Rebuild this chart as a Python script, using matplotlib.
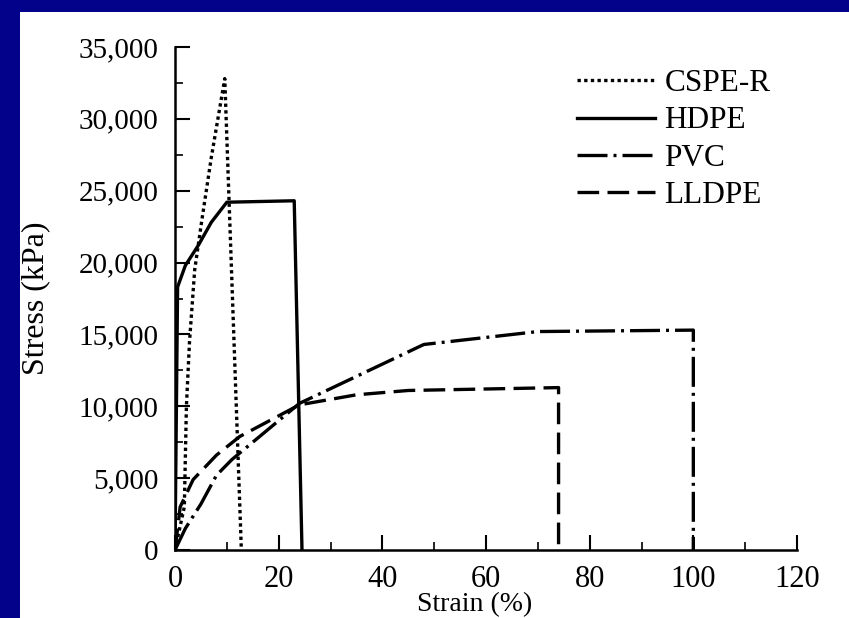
import matplotlib
matplotlib.use("Agg")
import matplotlib.pyplot as plt
from matplotlib.patches import Rectangle
from matplotlib.ticker import MultipleLocator, FuncFormatter

# ---- data ----
cspe_strain = [0, 1.8, 2.2, 2.8, 3.8, 5.2, 7.0, 9.6, 12.8]
cspe_stress = [0, 3000, 10000, 14500, 19500, 23000, 27300, 32800, 0]

hdpe_strain = [0, 0.5, 2.0, 4.5, 7.0, 10.0, 23.0, 24.5]
hdpe_stress = [0, 18300, 19800, 21200, 22800, 24200, 24300, 0]

pvc_strain = [0, 2, 5, 8, 11, 15, 24, 48, 70, 100, 100]
pvc_stress = [0, 1500, 3200, 5200, 6300, 7500, 10200, 14300, 15200, 15300, 0]

lldpe_strain = [0, 1, 3.5, 8, 12.5, 24, 35, 45, 74, 74]
lldpe_stress = [0, 3000, 4900, 6600, 7900, 10100, 10800, 11100, 11300, 0]

labels = ["CSPE-R", "HDPE", "PVC", "LLDPE"]
x_ticks = [0, 20, 40, 60, 80, 100, 120]
y_ticks = [0, 5000, 10000, 15000, 20000, 25000, 30000, 35000]

serif = ["Liberation Serif", "DejaVu Serif"]
plt.rcParams["font.family"] = serif

fig = plt.figure(figsize=(8.49, 6.18), dpi=100)
fig.patch.set_facecolor("#02028a")
fig.patches.append(Rectangle((20 / 849, 0), 1, 1 - 12 / 618, transform=fig.transFigure,
                             facecolor="white", edgecolor="none", zorder=-10))

ax = fig.add_axes([175 / 849, 1 - 550 / 618, (797 - 175) / 849, (550 - 47) / 618])
ax.set_zorder(5)
ax.set_facecolor("none")

lw = 2.4
ax.plot(cspe_strain, cspe_stress, color="black", lw=lw, linestyle=(0, (1.0, 1.0)), label=labels[0])
ax.plot(hdpe_strain, hdpe_stress, color="black", lw=lw, linestyle="-", label=labels[1])
ax.plot(pvc_strain, pvc_stress, color="black", lw=lw, linestyle=(0, (9, 1.8, 0.9, 1.8)), label=labels[2])
ax.plot(lldpe_strain, lldpe_stress, color="black", lw=lw, linestyle=(0, (6.5, 2.5)), label=labels[3])

ax.set_xlim(0, 120)
ax.set_ylim(0, 35000)
ax.set_xticks(x_ticks)
ax.set_yticks(y_ticks)
ax.xaxis.set_minor_locator(MultipleLocator(10))
ax.yaxis.set_minor_locator(MultipleLocator(2500))
ax.yaxis.set_major_formatter(FuncFormatter(lambda v, p: f"{int(v):,}"))

for s in ["top", "right"]:
    ax.spines[s].set_visible(False)
for s in ["left", "bottom"]:
    ax.spines[s].set_linewidth(1.8)

ax.tick_params(axis="both", which="major", direction="in", length=11, width=1.5)
ax.tick_params(axis="both", which="minor", direction="in", length=6, width=1.2)
ax.tick_params(axis="x", which="major", labelsize=22, pad=11)
ax.tick_params(axis="y", which="major", labelsize=21, pad=12)

ax.set_xlabel("Strain (%)", fontsize=20, va="center")
ax.xaxis.set_label_coords((475 - 175) / 622, -(605 - 550) / 503)
ax.set_ylabel("Stress (kPa)", fontsize=23, va="center")
ax.yaxis.set_label_coords((36 - 175) / 622, (550 - 298) / 503)

leg = ax.legend(loc="upper left", bbox_to_anchor=(577 / 849, 1 - 69 / 618),
                bbox_transform=fig.transFigure, frameon=False, fontsize=22.5,
                handlelength=2.5, handletextpad=0.3, labelspacing=0.27,
                borderaxespad=0, borderpad=0)

fig.savefig("out.png", dpi=100, facecolor=fig.get_facecolor())
